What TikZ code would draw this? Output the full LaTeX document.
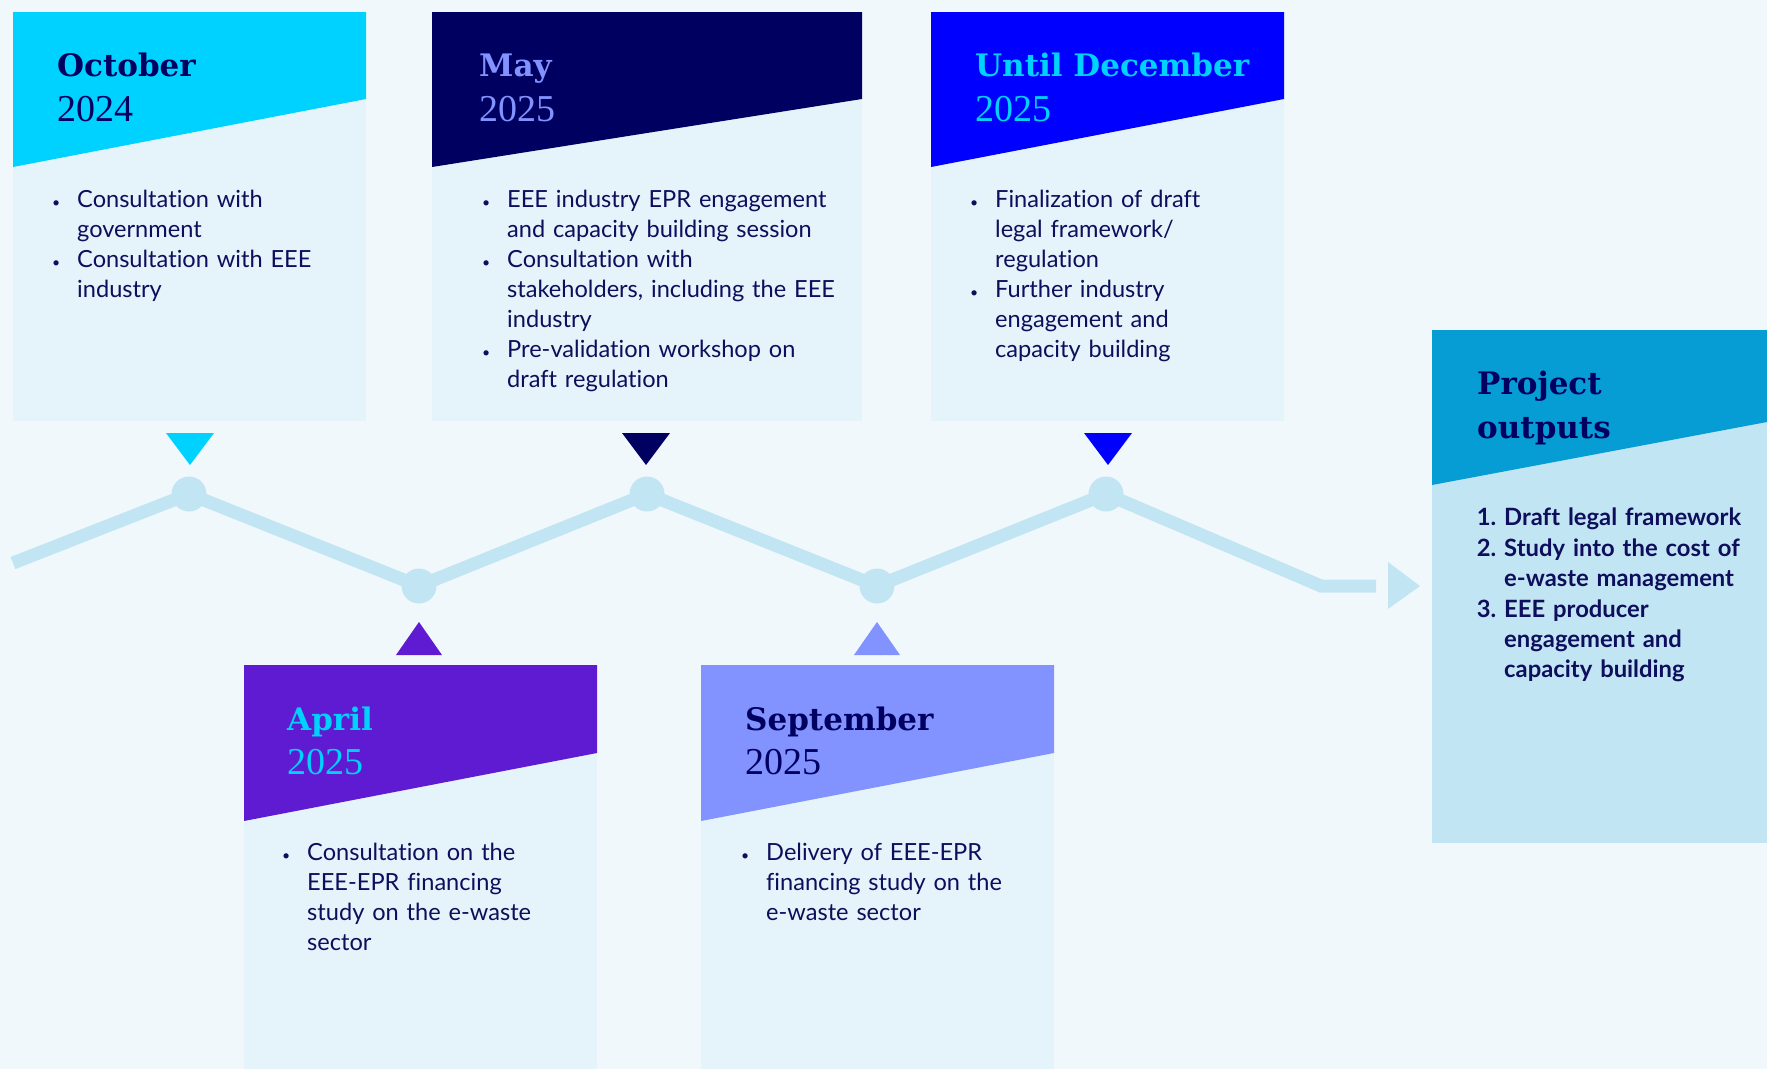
\documentclass[tikz,border=0pt]{standalone}
\usepackage{fontspec}
\setmainfont{Lato}[Ligatures=NoCommon]
\newfontfamily\monthfont{DejaVu Serif}
\newfontfamily\yearfont{Liberation Serif}
\definecolor{bg}{RGB}{241,248,252}
\definecolor{boxbody}{RGB}{229,244,251}
\definecolor{ink}{RGB}{14,14,92}
\definecolor{navy}{RGB}{0,0,96}
\definecolor{cyanc}{RGB}{0,210,255}
\definecolor{bluec}{RGB}{0,0,255}
\definecolor{purplec}{RGB}{94,27,210}
\definecolor{periw}{RGB}{130,146,255}
\definecolor{projhead}{RGB}{6,156,212}
\definecolor{projbody}{RGB}{194,229,244}
\definecolor{linec}{RGB}{194,229,244}
\newcommand\bu{\leavevmode\llap{{\fontsize{14}{14}\selectfont\textbullet}\hspace{17pt}}}
\newcommand\nm[1]{\leavevmode\llap{#1\hspace{8pt}}}
\begin{document}
\begin{tikzpicture}[x=1pt,y=-1pt,
  body/.style={anchor=base west, inner sep=0pt, text width=345pt, align=left,
    font=\fontsize{23.6}{30}\selectfont, text=ink},
  pbody/.style={body, font=\fontsize{23.8}{30}\selectfont\bfseries, text width=270pt},
  month/.style={anchor=base west, inner sep=0pt, font=\monthfont\bfseries\fontsize{31}{36}\selectfont},
  year/.style={anchor=base west, inner sep=0pt, font=\yearfont\fontsize{38}{40}\selectfont},
  dot/.style={circle, fill=linec, minimum size=35pt, inner sep=0pt},
  tline/.style={draw=linec, line width=13pt}
]
\useasboundingbox (0,0) rectangle (1767,1069);
\fill[bg] (0,0) rectangle (1767,1069);

% ---- boxes ----
% October
\fill[boxbody] (13,12) rectangle (366,421);
\fill[cyanc] (13,12) -- (366,12) -- (366,99) -- (13,167) -- cycle;
% May
\fill[boxbody] (432,12) rectangle (862,421);
\fill[navy] (432,12) -- (862,12) -- (862,99) -- (432,167) -- cycle;
% Until December
\fill[boxbody] (931,12) rectangle (1284,421);
\fill[bluec] (931,12) -- (1284,12) -- (1284,99) -- (931,167) -- cycle;
% April
\fill[boxbody] (244,665) rectangle (597,1069);
\fill[purplec] (244,665) -- (597,665) -- (597,753) -- (244,821) -- cycle;
% September
\fill[boxbody] (701,665) rectangle (1054,1069);
\fill[periw] (701,665) -- (1054,665) -- (1054,753) -- (701,821) -- cycle;
% Project outputs
\fill[projbody] (1432,330) rectangle (1767,843);
\fill[projhead] (1432,330) -- (1767,330) -- (1767,422) -- (1432,485) -- cycle;

% ---- timeline ----
\node[dot] (c1) at (189,494) {};
\node[dot] (c2) at (419,586) {};
\node[dot] (c3) at (647,494) {};
\node[dot] (c4) at (877,586) {};
\node[dot] (c5) at (1106,494) {};
\coordinate (ls) at (13,563);
\coordinate (bend) at (1321,586);
\coordinate (le) at (1376,586);
\draw[tline] (ls) -- (c1.center) -- (c2.center) -- (c3.center) -- (c4.center) -- (c5.center) -- (bend) -- (le);
\fill[linec] (1388,562) -- (1420,586) -- (1388,609) -- cycle;

% markers
\fill[cyanc] (166,433) -- (214,433) -- (190,465) -- cycle;
\fill[navy] (622,433) -- (670,433) -- (646,465) -- cycle;
\fill[bluec] (1084,433) -- (1132,433) -- (1108,465) -- cycle;
\fill[purplec] (396,655) -- (442,655) -- (419,622) -- cycle;
\fill[periw] (854,655) -- (900,655) -- (877,622) -- cycle;

% ---- titles ----
\node[month, text=navy] (octm) at (57,76) {October};
\node[year, text=navy] (octy) at (57,121) {2024};
\node[month, text=periw] (maym) at (479,76) {May};
\node[year, text=periw] (mayy) at (479,121) {2025};
\node[month, text=cyanc] (decm) at (975,76) {Until December};
\node[year, text=cyanc] (decy) at (975,121) {2025};
\node[month, text=cyanc] (aprm) at (287,730) {April};
\node[year, text=cyanc] (apry) at (287,774) {2025};
\node[month, text=navy] (sepm) at (745,730) {September};
\node[year, text=navy] (sepy) at (745,774) {2025};
\node[month, text=navy] (proj1) at (1477,394) {Project};
\node[month, text=navy] (proj2) at (1477,438) {outputs};

% ---- body texts ----
\node[body] (oct1) at (77,207) {\bu Consultation with\\government};
\node[body] (oct2) at (77,267) {\bu Consultation with EEE\\industry};

\node[body] (may1) at (507,207) {\bu EEE industry EPR engagement\\and capacity building session};
\node[body] (may2) at (507,267) {\bu Consultation with\\stakeholders, including the EEE\\industry};
\node[body] (may3) at (507,357) {\bu Pre-validation workshop on\\draft regulation};

\node[body] (dec1) at (995,207) {\bu Finalization of draft\\legal framework/\\regulation};
\node[body] (dec2) at (995,297) {\bu Further industry\\engagement and\\capacity building};

\node[body] (apr1) at (307,860) {\bu Consultation on the\\EEE-EPR financing\\study on the e-waste\\sector};

\node[body] (sep1) at (766,860) {\bu Delivery of EEE-EPR\\financing study on the\\e-waste sector};

\node[pbody] (po1) at (1504,525) {\nm{1.}Draft legal framework};
\node[pbody] (po2) at (1504,556) {\nm{2.}Study into the cost of\\e-waste management};
\node[pbody] (po3) at (1504,617) {\nm{3.}EEE producer\\engagement and\\capacity building};
\end{tikzpicture}
\end{document}
